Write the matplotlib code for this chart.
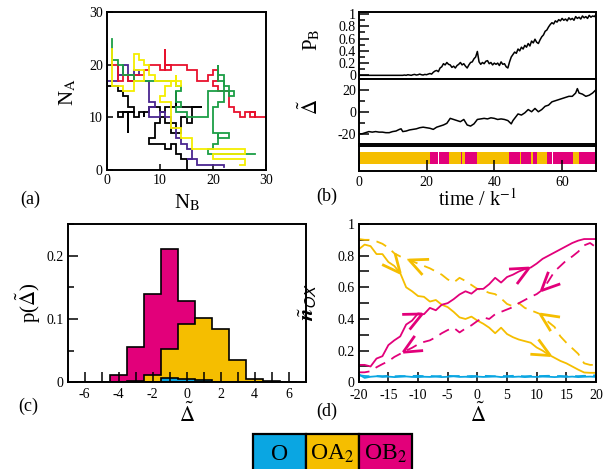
import numpy as np
import matplotlib
matplotlib.use('Agg')
import matplotlib.pyplot as plt
from matplotlib.patches import Rectangle
from matplotlib.ticker import MultipleLocator, FuncFormatter

plt.rcParams['font.family'] = ['Liberation Serif', 'DejaVu Serif']
plt.rcParams['mathtext.fontset'] = 'stix'
plt.rcParams['axes.unicode_minus'] = False

C_O = '#0AA6E2'
C_OA = '#F5BE00'
C_OB = '#E2007A'

# ---------------- panel (a): trajectories (N_B, N_A) ----------------
traj_black = [(0, 24), (0, 12), (0, 16), (2, 16), (2, 15), (3, 15), (3, 14), (4, 14), (4, 12), (5, 12), (5, 11),
              (2, 11), (2, 10), (3, 10), (3, 11), (4, 11), (4, 7), (4, 11), (5, 11), (5, 10), (6, 10), (6, 11),
              (7, 11), (7, 10), (7, 11), (8, 11), (8, 12), (10, 12), (10, 11), (11, 11), (11, 12), (13, 12),
              (13, 15), (13, 12), (18, 12), (16, 12), (16, 9), (15, 9), (15, 10), (14, 10), (14, 7), (12, 7),
              (12, 8), (13, 8), (13, 9), (11, 9), (11, 10), (10, 10), (10, 9), (9, 9), (9, 6), (8, 6), (8, 5),
              (11, 5), (11, 4), (12, 4), (12, 5), (13, 5), (13, 3), (14, 3), (14, 2), (15, 2), (15, 0)]
traj_purple = [(0, 20), (0, 17), (2, 17), (2, 20), (2, 18), (3, 18), (3, 20), (4, 20), (4, 18), (5, 18), (5, 19),
               (6, 19), (6, 18), (4, 18), (4, 17), (7, 17), (8, 17), (8, 13), (9, 13), (9, 12), (8, 12), (8, 10),
               (10, 10), (10, 11), (11, 11), (11, 10), (12, 10), (12, 8), (13, 8), (13, 6), (14, 6), (14, 5), (15, 5),
               (15, 4), (16, 4), (16, 2), (15, 2), (17, 2), (17, 1), (22, 1), (22, 0.5)]
traj_yellow = [(1, 23), (1, 16), (3, 16), (3, 15), (5, 15), (5, 17), (7, 17), (7, 19), (5, 19), (5, 22), (6, 22),
               (6, 21), (7, 21), (7, 20), (8, 20), (8, 18), (9, 18), (9, 17), (13, 17), (13, 18), (13, 16), (14, 16),
               (14, 17), (12, 17), (12, 16), (11, 16), (11, 14), (10, 14), (10, 13), (12, 13), (12, 8), (14, 8),
               (14, 6), (16, 6), (16, 4), (26, 4), (26, 3), (20, 3), (20, 2), (26, 2), (26, 1), (25, 1)]
traj_red = [(1, 23), (1, 20), (2, 20), (2, 17), (3, 17), (3, 18), (4, 18), (4, 17), (5, 17), (5, 18), (7, 18),
            (7, 19), (8, 19), (8, 20), (10, 20), (10, 19), (11, 19), (11, 23), (11, 20), (12, 20), (12, 19), (11, 19),
            (11, 20), (15, 20), (15, 19), (17, 19), (17, 17), (19, 17), (19, 18), (20, 18), (20, 19), (21, 19),
            (21, 17), (20, 17), (20, 16), (21, 16), (21, 15), (23, 15), (23, 12), (24, 12), (24, 11), (25, 11),
            (25, 10), (26, 10), (26, 11), (28, 11), (28, 10), (27, 10), (27, 11), (28, 11), (28, 10), (30, 10)]
traj_green = [(1, 25), (1, 21), (2, 21), (2, 20), (3, 20), (3, 18), (5, 18), (5, 17), (13, 17), (13, 16), (14, 16),
              (14, 15), (13, 15), (13, 13), (14, 13), (14, 12), (13, 12), (13, 11), (15, 11), (15, 10), (19, 10),
              (19, 15), (24, 15), (24, 14), (23, 14), (23, 16), (22, 16), (22, 18), (21, 18), (21, 20), (21, 17),
              (22, 17), (22, 13), (21, 13), (21, 12), (20, 12), (20, 7), (23, 7), (23, 6), (21, 6), (21, 7), (21, 5),
              (20, 5), (20, 4), (19, 4), (19, 3), (28, 3)]
traj_list = [traj_black, traj_purple, traj_red, traj_green, traj_yellow]
traj_colors = ['black', '#4A2590', '#E8112D', '#1B9E45', '#F5EE00']

# ---------------- panel (b) ----------------
pb_step = 0.5
pb_values = [0, 0, 0, 0, 0, 0, 0, 0, 0, 0, 0, 0, 0, 0, 0, 0, 0, 0, 0, 0, 0, 0, 0, 0, 0, 0,
             0, 0.005, 0, 0.01, 0.005, 0, 0.01, 0.015, 0.005, 0.01, 0.02, 0.01, 0.005, 0.015,
             0.01, 0.02, 0.03, 0.02, 0.05, 0.07, 0.08, 0.06, 0.12, 0.14, 0.19, 0.17, 0.21, 0.18, 0.17, 0.13,
             0.15, 0.12, 0.16, 0.18, 0.21, 0.17, 0.19, 0.15, 0.12, 0.17, 0.21, 0.22, 0.27, 0.30, 0.39, 0.22,
             0.18, 0.21, 0.19, 0.23, 0.24, 0.19, 0.21, 0.17, 0.20, 0.18, 0.20, 0.16, 0.22, 0.18, 0.19, 0.14,
             0.12, 0.22, 0.30, 0.34, 0.38, 0.36, 0.43, 0.40, 0.46, 0.43, 0.49, 0.46, 0.52, 0.48, 0.56, 0.53,
             0.59, 0.54, 0.52, 0.58, 0.63, 0.66, 0.72, 0.74, 0.79, 0.83, 0.86, 0.84, 0.89, 0.87, 0.91, 0.89,
             0.93, 0.90, 0.92, 0.89, 0.94, 0.91, 0.93, 0.90, 0.96, 0.93, 0.95, 0.92, 0.97, 0.94, 0.96, 0.93,
             0.98, 0.95, 0.97, 0.96, 0.99]
pb_time = np.arange(len(pb_values)) * pb_step

delta_time = [0, 1, 2, 3, 4, 5, 6, 7, 8, 9, 10, 11, 12, 12.5, 13, 14, 15, 16, 17, 18, 19, 20, 21, 22, 23, 24, 25,
              26, 27, 28, 29, 30, 31, 32, 33, 34, 35, 36, 37, 38, 39, 40, 41, 42, 43, 44, 45, 45.5, 46, 47, 48,
              49, 50, 51, 52, 53, 54, 55, 56, 57, 58, 59, 60, 61, 62, 63, 64, 64.5, 65, 66, 67, 68, 69, 70]
delta_values = [-20, -20, -19, -18, -18.5, -18, -18.5, -18.5, -19, -19, -18, -17.5, -16, -15.5,
                -18, -17.5, -16.5, -16, -15.5, -14.5, -14, -14.5, -15, -16, -14, -13, -12, -10.5, -6, -7,
                -8, -9, -7, -12, -13, -11, -7, -6.5, -6, -6.5, -5.5, -6, -7, -6.5, -7, -8, -11, -8,
                -6, -2, -3, -1, 2, 0, 3, 0, 2, 5, 6, 9, 10, 11, 12, 13, 14, 14, 17, 21, 17, 16, 14, 15, 17, 20]

strip_start = [0, 21, 23.5, 23.8, 26.6, 30.1, 30.6, 31.5, 34.8, 35.4, 35.6, 44.4, 47.6, 48.0, 50.8, 51.3,
               52.6, 55.5, 56.9, 57.3, 63.1, 64.9]
strip_end = [21, 23.5, 23.8, 26.6, 30.1, 30.6, 31.5, 34.8, 35.4, 35.6, 44.4, 47.6, 48.0, 50.8, 51.3, 52.6,
             55.5, 56.9, 57.3, 63.1, 64.9, 70]
strip_state = ['OA2', 'OB2', 'gap', 'OB2', 'OA2', 'OB2', 'OA2', 'OB2', 'OA2', 'gap', 'OA2', 'OB2', 'OA2',
               'OB2', 'OA2', 'OB2', 'OA2', 'OB2', 'gap', 'OB2', 'OA2', 'OB2']
state_color = {'O': C_O, 'OA2': C_OA, 'OB2': C_OB, 'gap': 'white'}

# ---------------- panel (c): histograms ----------------
hist_centers = [-6, -5, -4, -3, -2, -1, 0, 1, 2, 3, 4, 5, 6]
p_OB2 = [0, 0, 0.012, 0.056, 0.140, 0.210, 0.129, 0, 0, 0, 0, 0, 0]
p_OA2 = [0, 0, 0, 0.002, 0.012, 0.052, 0.092, 0.101, 0.084, 0.035, 0.005, 0.002, 0]
p_O = [0, 0, 0, 0, 0.001, 0.007, 0.006, 0.003, 0.001, 0, 0, 0, 0]

# ---------------- panel (d) ----------------
d_delta = [-20, -19, -18, -17, -16, -15, -14, -13, -12, -11, -10, -9, -8, -7, -6, -5, -4, -3, -2, -1, 0,
           1, 2, 3, 4, 5, 6, 7, 8, 9, 10, 11, 12, 13, 14, 15, 16, 17, 18, 19, 20]
n_OB2_fwd = [0.11, 0.11, 0.10, 0.15, 0.165, 0.235, 0.265, 0.29, 0.365, 0.39, 0.435, 0.43, 0.47, 0.455, 0.49,
             0.50, 0.525, 0.555, 0.575, 0.56, 0.59, 0.59, 0.62, 0.66, 0.63, 0.665, 0.68, 0.70, 0.715, 0.725,
             0.75, 0.78, 0.80, 0.82, 0.84, 0.86, 0.88, 0.895, 0.905, 0.905, 0.905]
n_OB2_bwd = [0.063, 0.063, 0.07, 0.095, 0.115, 0.133, 0.16, 0.18, 0.20, 0.218, 0.24, 0.255, 0.265, 0.285, 0.31,
             0.33, 0.345, 0.315, 0.34, 0.36, 0.387, 0.41, 0.40, 0.43, 0.445, 0.46, 0.475, 0.50, 0.52, 0.54,
             0.557, 0.585, 0.64, 0.70, 0.735, 0.77, 0.795, 0.825, 0.865, 0.88, 0.853]
n_OA2_fwd = [0.84, 0.87, 0.86, 0.81, 0.81, 0.76, 0.735, 0.69, 0.60, 0.575, 0.545, 0.54, 0.51, 0.52, 0.49,
             0.475, 0.445, 0.41, 0.40, 0.415, 0.39, 0.37, 0.345, 0.31, 0.345, 0.305, 0.285, 0.27, 0.26, 0.25,
             0.22, 0.20, 0.175, 0.155, 0.135, 0.12, 0.10, 0.08, 0.062, 0.06, 0.06]
n_OA2_bwd = [0.905, 0.90, 0.90, 0.89, 0.875, 0.85, 0.815, 0.795, 0.78, 0.765, 0.75, 0.735, 0.72, 0.70, 0.68,
             0.65, 0.63, 0.66, 0.64, 0.615, 0.59, 0.58, 0.565, 0.557, 0.53, 0.495, 0.48, 0.50, 0.47, 0.455,
             0.44, 0.425, 0.38, 0.35, 0.29, 0.25, 0.215, 0.18, 0.12, 0.11, 0.11]
n_O_fwd = [0.05, 0.028, 0.035, 0.038, 0.034, 0.036, 0.033, 0.035, 0.037, 0.034, 0.033, 0.035, 0.034, 0.036,
           0.033, 0.035, 0.038, 0.034, 0.035, 0.033, 0.036, 0.034, 0.035, 0.037, 0.033, 0.035, 0.034, 0.036,
           0.033, 0.035, 0.034, 0.036, 0.035, 0.033, 0.035, 0.034, 0.036, 0.033, 0.035, 0.036, 0.034]
n_O_bwd = [0.045, 0.04, 0.038, 0.04, 0.039, 0.041, 0.038, 0.04, 0.039, 0.04, 0.041, 0.039, 0.04, 0.038, 0.04,
           0.041, 0.039, 0.04, 0.038, 0.04, 0.039, 0.041, 0.04, 0.038, 0.04, 0.039, 0.041, 0.04, 0.038, 0.04,
           0.039, 0.04, 0.041, 0.039, 0.04, 0.038, 0.04, 0.039, 0.041, 0.04, 0.045]
# arrow annotations: (curve, x of tip, forward?)
arrow_specs = [('OA2_fwd', -13.0, True), ('OA2_bwd', -11.5, False), ('OB2_fwd', -9.3, True),
               ('OB2_bwd', -12.5, False), ('OB2_fwd', 8.7, True), ('OB2_bwd', 10.8, False),
               ('OA2_bwd', 10.6, False), ('OA2_fwd', 12.3, True)]

legend_labels = ['O', 'OA$_2$', 'OB$_2$']
legend_colors = [C_O, C_OA, C_OB]

# ======================================================================
W, H = 613, 469
fig = plt.figure(figsize=(W / 100, H / 100), dpi=100)


def box(x0, y0, x1, y1):
    return [x0 / W, 1 - y1 / H, (x1 - x0) / W, (y1 - y0) / H]


def ftext(x, y, s, **kw):
    fig.text(x / W, 1 - y / H, s, ha=kw.pop('ha', 'center'), va=kw.pop('va', 'center'), **kw)


SP_LW = 1.4


def style(ax):
    for s in ax.spines.values():
        s.set_linewidth(SP_LW)
    ax.tick_params(which='both', direction='in', width=1.1, labelsize=10, pad=3)
    ax.tick_params(which='major', length=7)
    ax.tick_params(which='minor', length=4)


# ---- (a)
axa = fig.add_axes(box(107, 12.3, 266, 170))
for tr, c in zip(traj_list, traj_colors):
    arr = np.array(tr, dtype=float)
    axa.plot(arr[:, 0], arr[:, 1], color=c, lw=1.3, solid_joinstyle='miter')
axa.set_xlim(0, 30)
axa.set_ylim(0, 30)
axa.xaxis.set_major_locator(MultipleLocator(10))
axa.yaxis.set_major_locator(MultipleLocator(10))
style(axa)
axa.tick_params(which='major', length=4)
ftext(68, 92, r'N$_{\rm A}$', fontsize=15, rotation=90)
ftext(187, 203, r'N$_{\rm B}$', fontsize=15)
ftext(30, 199, '(a)', fontsize=13)

# ---- (b) top
axb1 = fig.add_axes(box(358.7, 12.3, 596, 78.7))
axb1.plot(pb_time, pb_values, color='black', lw=1.1)
axb1.set_xlim(0, 70)
axb1.set_ylim(-0.055, 1.03)
axb1.yaxis.set_major_locator(MultipleLocator(0.2))
axb1.yaxis.set_minor_locator(MultipleLocator(0.1))
axb1.yaxis.set_major_formatter(FuncFormatter(lambda v, p: '%g' % round(v, 2)))
style(axb1)
axb1.tick_params(axis='x', which='both', bottom=False, labelbottom=False)
axb1.tick_params(axis='y', labelsize=10, pad=2)
ftext(312, 40, r'P$_{\rm B}$', fontsize=15, rotation=90)

# ---- (b) middle
axb2 = fig.add_axes(box(358.7, 78.7, 596, 143.7))
axb2.plot(delta_time, delta_values, color='black', lw=1.1)
axb2.set_xlim(0, 70)
axb2.set_ylim(-29, 30)
axb2.yaxis.set_major_locator(MultipleLocator(20))
axb2.yaxis.set_minor_locator(MultipleLocator(10))
style(axb2)
axb2.tick_params(axis='x', which='both', bottom=False, labelbottom=False)
axb2.tick_params(axis='y', labelsize=10, pad=2)
ftext(311, 107, r'$\tilde{\Delta}$', fontsize=15, rotation=90)

# ---- (b) strip
axb3 = fig.add_axes(box(358.7, 145.7, 596, 170.7))
for s0, s1, st in zip(strip_start, strip_end, strip_state):
    axb3.broken_barh([(s0, s1 - s0)], (0.27, 0.47), facecolors=state_color[st], edgecolor='none', zorder=1)
axb3.set_xlim(0, 70)
axb3.set_ylim(0, 1)
axb3.xaxis.set_major_locator(MultipleLocator(20))
axb3.set_yticks([])
axb3.set_axisbelow(False)
style(axb3)
axb3.tick_params(axis='x', which='major', length=8, labelsize=10, pad=4)
ftext(478, 200, r'time / k$^{-1}$', fontsize=14.5)
ftext(327, 196, '(b)', fontsize=13)

# ---- (c)
axc = fig.add_axes(box(67.7, 224, 305.7, 382.3))
centers = np.array(hist_centers, dtype=float)
edges = np.concatenate([centers - 0.5, [centers[-1] + 0.5]])
for vals, c in [(p_OB2, C_OB), (p_OA2, C_OA), (p_O, C_O)]:
    axc.stairs(vals, edges, fill=True, facecolor=c, edgecolor='none')
    axc.stairs(vals, edges, fill=False, color='black', lw=1.2)
axc.set_xlim(-7, 7)
axc.set_ylim(0, 0.25)
axc.xaxis.set_major_locator(MultipleLocator(2))
axc.xaxis.set_minor_locator(MultipleLocator(1))
axc.yaxis.set_major_locator(MultipleLocator(0.1))
axc.yaxis.set_minor_locator(MultipleLocator(0.05))
axc.yaxis.set_major_formatter(FuncFormatter(lambda v, p: '%g' % round(v, 2)))
style(axc)
axc.tick_params(axis='x', which='minor', length=7)
axc.tick_params(axis='x', pad=4)
ftext(28, 303, r'p($\tilde{\Delta}$)', fontsize=15, rotation=90)
ftext(187, 415, r'$\tilde{\Delta}$', fontsize=15)
ftext(28, 406, '(c)', fontsize=13)

# ---- (d)
axd = fig.add_axes(box(358.7, 224, 596, 382.3))
curves = {'OB2_fwd': (n_OB2_fwd, C_OB, '-'), 'OB2_bwd': (n_OB2_bwd, C_OB, '--'),
          'OA2_fwd': (n_OA2_fwd, C_OA, '-'), 'OA2_bwd': (n_OA2_bwd, C_OA, '--'),
          'O_fwd': (n_O_fwd, C_O, '-'), 'O_bwd': (n_O_bwd, C_O, '--')}
for key in ['O_fwd', 'O_bwd', 'OA2_fwd', 'OA2_bwd', 'OB2_fwd', 'OB2_bwd']:
    vals, c, ls = curves[key]
    if ls == '--':
        axd.plot(d_delta, vals, color=c, ls='--', dashes=(6, 4), lw=1.3)
    else:
        axd.plot(d_delta, vals, color=c, ls='-', lw=1.3)
axd.set_xlim(-20, 20)
axd.set_ylim(0, 1)
axd.xaxis.set_major_locator(MultipleLocator(5))
axd.yaxis.set_major_locator(MultipleLocator(0.2))
axd.yaxis.set_minor_locator(MultipleLocator(0.1))
axd.yaxis.set_major_formatter(FuncFormatter(lambda v, p: '%g' % round(v, 2)))
style(axd)
axd.tick_params(axis='y', which='minor', length=7)
axd.tick_params(axis='x', pad=5)


def chevron(ax, xs, ys, x_tip, forward, color, L=20, half=25):
    xs = np.asarray(xs, float)
    ys = np.asarray(ys, float)
    tip = ax.transData.transform((x_tip, np.interp(x_tip, xs, ys)))
    p0 = ax.transData.transform((x_tip - 2.5, np.interp(x_tip - 2.5, xs, ys)))
    p1 = ax.transData.transform((x_tip + 2.5, np.interp(x_tip + 2.5, xs, ys)))
    d = p1 - p0
    d = d / np.hypot(*d)
    if not forward:
        d = -d
    inv = ax.transData.inverted()
    for ang in (half, -half):
        a = np.deg2rad(ang)
        r = np.array([d[0] * np.cos(a) - d[1] * np.sin(a), d[0] * np.sin(a) + d[1] * np.cos(a)])
        end = tip - L * r
        pts = inv.transform(np.array([end, tip]))
        ax.plot(pts[:, 0], pts[:, 1], color=color, lw=2.0, solid_capstyle='butt', zorder=4)


for key, xt, fwd in arrow_specs:
    vals, c, ls = curves[key]
    chevron(axd, d_delta, vals, xt, fwd, c)

# y-label with bold-italic n
lab = r'$\tilde{\mathbfit{n}}_{\mathsf{OX}}$'
tf = plt.figure()
try:
    tf.text(0, 0, lab)
    tf.canvas.draw()
except Exception:
    lab = r'$\tilde{\mathbf{n}}_{\mathsf{OX}}$'
plt.close(tf)
ftext(308, 302, lab, fontsize=16, rotation=90)
ftext(478, 415, r'$\tilde{\Delta}$', fontsize=15)
ftext(327, 411, '(d)', fontsize=13)

# ---- legend boxes
axl = fig.add_axes([252.7 / W, -0.02, 159 / W, (H - 434.3) / H + 0.02])
axl.set_xlim(0, 3)
axl.set_ylim(0, 1)
axl.axis('off')
for i, (lbl, c) in enumerate(zip(legend_labels, legend_colors)):
    axl.add_patch(Rectangle((i, 0), 1, 1, facecolor=c, edgecolor='black', lw=1.6, clip_on=False))
    ftext(252.7 + 53 * (i + 0.5), 460, lbl, fontsize=17, va='baseline')

fig.savefig('out.png', dpi=100)
